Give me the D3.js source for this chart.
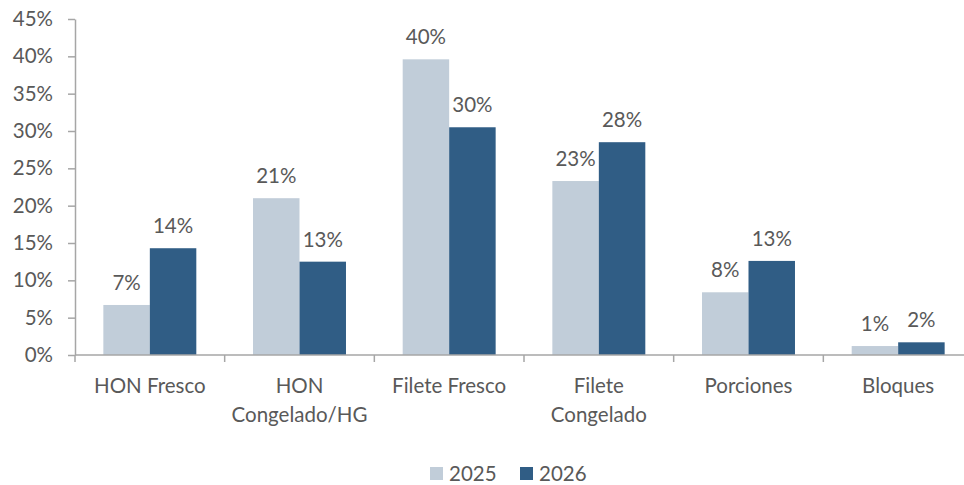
<!DOCTYPE html>
<html><head><meta charset="utf-8">
<script src="https://cdn.jsdelivr.net/npm/d3@7"></script>
<style>body{margin:0;background:#fff}svg{display:block}text{font-family:Lato,"Open Sans",sans-serif;fill:#595959}</style>
</head><body>
<svg id="c" width="964" height="485"></svg>
<script>
const categories = [["HON Fresco"],["HON","Congelado/HG"],["Filete Fresco"],["Filete","Congelado"],["Porciones"],["Bloques"]];
const series = ["2025","2026"];
const values2025 = [6.7, 21.0, 39.6, 23.3, 8.4, 1.2];
const values2026 = [14.3, 12.5, 30.5, 28.5, 12.6, 1.7];
const labels2025 = ["7%","21%","40%","23%","8%","1%"];
const labels2026 = ["14%","13%","30%","28%","13%","2%"];
const yTicks = [0,5,10,15,20,25,30,35,40,45];
const colors = ["#C1CDD9","#305D85"];

(function(){
const svg = d3.select("#c");
const fs = "20.5px";
const mL = 75, mR = 973, mT = 19, mB = 355;
const x = d3.scaleBand().domain(d3.range(categories.length)).range([mL, mR]).paddingInner(0).paddingOuter(0);
const y = d3.scaleLinear().domain([0,45]).range([mB, mT]);
const inner = d3.scaleBand().domain(series).range([0, x.bandwidth()]).paddingInner(0).paddingOuter(0.61);

const axisColor = "#A6A6A6";
const ya = svg.append("g").attr("transform",`translate(${mL},0)`)
  .call(d3.axisLeft(y).tickValues(yTicks).tickFormat(d=>d+"%").tickSize(7).tickSizeOuter(0));
ya.select(".domain").attr("stroke",axisColor).attr("stroke-width",1.5);
ya.selectAll(".tick line").attr("stroke",axisColor).attr("stroke-width",1.5);
ya.selectAll(".tick text").attr("x",-22).style("font-size",fs).style("font-family","Lato").attr("fill","#595959");

const data = [values2025, values2026];
const labs = [labels2025, labels2026];
series.forEach((s,si)=>{
  svg.append("g").selectAll("rect").data(data[si]).join("rect")
    .attr("x",(d,i)=>x(i)+inner(s)).attr("width",inner.bandwidth())
    .attr("y",d=>y(d)).attr("height",d=>y(0)-y(d)).attr("fill",colors[si]);
  svg.append("g").selectAll("text").data(data[si]).join("text")
    .attr("x",(d,i)=>x(i)+inner(s)+inner.bandwidth()/2).attr("y",d=>y(d)-15)
    .attr("text-anchor","middle").style("font-size",fs).text((d,i)=>labs[si][i]);
});

const xa = svg.append("g").attr("transform",`translate(0,${mB})`);
xa.append("line").attr("x1",mL).attr("x2",mR).attr("stroke",axisColor).attr("stroke-width",1.5);
xa.selectAll("line.t").data(d3.range(categories.length+1)).join("line").attr("class","t")
  .attr("x1",i=>mL+i*x.bandwidth()).attr("x2",i=>mL+i*x.bandwidth()).attr("y1",0).attr("y2",7)
  .attr("stroke",axisColor).attr("stroke-width",1.5);
categories.forEach((c,i)=>{
  const t = xa.append("text").attr("text-anchor","middle").style("font-size",fs)
    .attr("x",x(i)+x.bandwidth()/2).attr("y",38);
  c.forEach((line,j)=>t.append("tspan").attr("x",x(i)+x.bandwidth()/2).attr("dy",j?29:0).text(line));
});

const lg = svg.append("g");
const lx = [430, 520];
series.forEach((s,i)=>{
  lg.append("rect").attr("x",lx[i]).attr("y",467).attr("width",13).attr("height",13).attr("fill",colors[i]);
  lg.append("text").attr("x",lx[i]+19).attr("y",481).style("font-size",fs).text(s);
});
})();
</script>
</body></html>
